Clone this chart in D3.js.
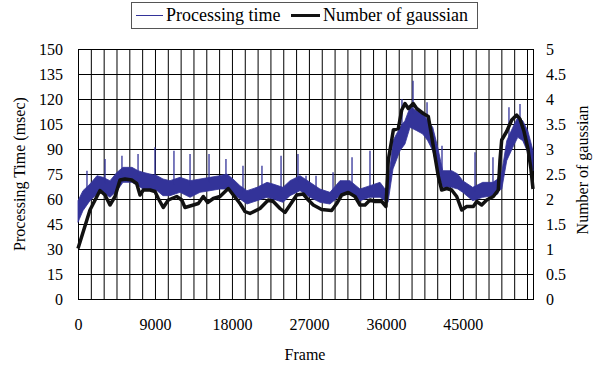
<!DOCTYPE html>
<html><head><meta charset="utf-8">
<script src="https://cdn.jsdelivr.net/npm/d3@7"></script>
<style>
html,body{margin:0;padding:0;background:#fff;}
svg{display:block;}
</style></head>
<body>
<svg id="c" width="603" height="374"></svg>
<script>
// ---- data ----
const gaussFrames = [0,1400,2570,3160,3740,4330,4910,5500,6280,6860,7250,7640,8420,9000,9390,9970,10560,11540,12130,12510,13100,14070,14650,15160,15820,16600,17570,18160,18940,19530,20110,21280,22250,22830,23620,24200,24790,25570,26340,26930,27510,28490,29660,30250,30830,31600,32390,32970,33560,34140,34730,35510,36010,36280,36680,36870,37450,37850,38230,38620,39200,39600,40370,40960,41360,41740,42130,42520,43110,43690,44280,44860,45450,46220,46620,47200,47790,48560,49140,49340,49540,50120,50710,51290,51680,52150,52610,52960,53200];
const gaussValues = [1.01,1.78,2.17,2.08,1.88,2.05,2.38,2.40,2.38,2.31,2.08,2.18,2.18,2.15,2.01,1.83,1.98,2.05,1.98,1.83,1.86,1.91,2.05,1.93,2.01,2.05,2.21,2.08,1.91,1.75,1.71,1.81,1.98,1.95,1.81,1.73,1.88,2.08,2.10,1.98,1.88,1.79,1.77,1.91,2.08,2.13,2.05,1.88,1.88,1.98,1.95,1.95,1.85,2.78,3.18,3.38,3.41,3.78,3.91,3.81,3.91,3.81,3.71,3.65,3.25,2.85,2.45,2.18,2.21,2.18,2.05,1.78,1.85,1.85,1.95,1.88,1.98,2.05,2.18,2.78,3.18,3.35,3.58,3.68,3.60,3.35,3.00,2.60,2.20];

const ptFrames = [0,580,1400,2220,2920,3740,4560,5260,6310,7020,7600,8420,9240,9940,10760,11930,13100,14270,15440,16600,17420,18120,18940,19760,20930,22100,22800,23970,24790,25960,26540,27130,28290,29460,30630,31800,32970,34140,35310,35900,36250,36830,37650,38230,38820,39600,40310,40890,41480,42060,42640,43690,44400,44980,46150,47320,48500,49080,49200,49550,50130,50840,51420,52000,52590,53200];
const ptHigh = [59,65,69,74,73,71,76,79,79,77,76,75,74,72,71,73,71,72,73,74,75,72,68,65,67,70,69,67,71,74,72,70,66,64,71,71,66,68,70,66,68,95,103,107,115,113,111,107,103,91,77,77,75,71,67,70,70,72,74,76,95,103,109,107,101,89,71];
const ptLow  = [46,53,59,63,64,61,65,70,70,68,66,65,65,62,62,64,61,64,65,66,66,63,60,57,59,61,60,58,62,65,63,61,58,57,62,64,59,61,61,59,58,78,89,93,103,101,99,95,89,77,67,67,66,64,59,61,62,63,65,66,83,91,97,95,88,77,63];

const spikeFrames = [1050,3160,5140,7020,9000,11220,13100,15320,17300,19290,21510,23740,25720,26660,27830,29820,32040,34140,37880,39170,40810,42560,46420,48520,50390,51680];
const spikeValues = [77,84,86,87,91,89,87,87,84,80,80,86,87,74,74,76,85,89,120,131,118,92,88,85,115,117];

const leftTicks = [0,15,30,45,60,75,90,105,120,135,150];
const rightTicks = [0,0.5,1,1.5,2,2.5,3,3.5,4,4.5,5];
const frameLabels = [0,9000,18000,27000,36000,45000];
const frameStep = 1500;
const frameMax = 53200;

const nBand = Math.min(ptFrames.length, ptHigh.length, ptLow.length);
const FONT = '"Liberation Serif", "Times New Roman", Times, serif';

// ---- drawing ----
const svg = d3.select("#c");
const L = 78, R = 533, T = 49, B = 299;
const x = d3.scaleLinear().domain([0, frameMax]).range([L, R]);
const yL = d3.scaleLinear().domain([0, 150]).range([B, T]);
const yR = d3.scaleLinear().domain([0, 5]).range([B, T]);

function styleAxisText(g) {
  g.attr("font-family", null).attr("font-size", null);
  g.selectAll("text").style("font-family", FONT).style("font-size", "16px").attr("fill", "#000");
}

// vertical gridlines
const gridFrames = d3.range(frameStep, frameMax, frameStep);
const gx = svg.append("g").attr("transform", `translate(0,${B})`)
  .call(d3.axisBottom(x).tickValues(gridFrames).tickSize(-(B - T)).tickFormat(""));
gx.select(".domain").remove();
gx.selectAll("line").attr("stroke", "#000").attr("stroke-width", 1);

// horizontal gridlines + left labels
const gl = svg.append("g").attr("transform", `translate(${L},0)`)
  .call(d3.axisLeft(yL).tickValues(leftTicks).tickSize(-(R - L)).tickPadding(15).tickFormat(d3.format("d")));
gl.select(".domain").remove();
gl.selectAll("line").attr("stroke", "#000").attr("stroke-width", 1).attr("shape-rendering", "crispEdges");
styleAxisText(gl);

// right labels
const gr = svg.append("g").attr("transform", `translate(${R},0)`)
  .call(d3.axisRight(yR).tickValues(rightTicks).tickSize(0).tickPadding(13).tickFormat(d => String(d)));
gr.select(".domain").remove();
styleAxisText(gr);

// bottom labels
const gb = svg.append("g").attr("transform", `translate(0,${B})`)
  .call(d3.axisBottom(x).tickValues(frameLabels).tickSize(0).tickPadding(20).tickFormat(d3.format("d")));
gb.select(".domain").remove();
styleAxisText(gb);

// plot frame
svg.append("rect").attr("x", L + 0.5).attr("y", T + 0.5).attr("width", R - L).attr("height", B - T)
  .attr("fill", "none").attr("stroke", "#000").attr("stroke-width", 1);

// processing time band
const band = d3.range(nBand).map(i => ({f: ptFrames[i], h: ptHigh[i], l: ptLow[i]}));
const blue = "#333399";
svg.append("path").datum(band)
  .attr("d", d3.area().x(d => x(d.f)).y0(d => yL(d.l)).y1(d => yL(d.h)))
  .attr("fill", blue).attr("stroke", blue).attr("stroke-width", 0.8);

// spikes
const bandHighAt = d3.scaleLinear().domain(ptFrames.slice(0, nBand)).range(ptHigh.slice(0, nBand));
svg.append("g").selectAll("line").data(spikeFrames.map((f, i) => ({f, v: spikeValues[i]})))
  .join("line")
  .attr("x1", d => x(d.f)).attr("x2", d => x(d.f))
  .attr("y1", d => yL(bandHighAt(d.f) - 3)).attr("y2", d => yL(d.v))
  .attr("stroke", blue).attr("stroke-width", 1.3);

// gaussian line
const gauss = gaussFrames.map((f, i) => ({f, v: gaussValues[i]}));
svg.append("path").datum(gauss)
  .attr("d", d3.line().x(d => x(d.f)).y(d => yR(d.v)))
  .attr("fill", "none").attr("stroke", "#111").attr("stroke-width", 3.5).attr("stroke-linejoin", "round");

// axis titles
function txt(sel) { return sel.style("font-family", FONT).style("font-size", "16px").attr("fill", "#000"); }
txt(svg.append("text").attr("transform", "translate(25,174) rotate(-90)")
  .attr("text-anchor", "middle").text("Processing Time (msec)"));
txt(svg.append("text").attr("transform", "translate(588,170) rotate(-90)")
  .attr("text-anchor", "middle").text("Number of gaussian"));
txt(svg.append("text").attr("x", 305).attr("y", 360)
  .attr("text-anchor", "middle").text("Frame"));

// legend
const lg = svg.append("g");
lg.append("rect").attr("x", 131.5).attr("y", 2.5).attr("width", 346).attr("height", 26)
  .attr("fill", "#fff").attr("stroke", "#555").attr("stroke-width", 1);
lg.append("line").attr("x1", 136).attr("x2", 163).attr("y1", 15.5).attr("y2", 15.5)
  .attr("stroke", blue).attr("stroke-width", 1);
txt(lg.append("text").attr("x", 166).attr("y", 21).text("Processing time")).style("font-size", "18px");
lg.append("line").attr("x1", 291).attr("x2", 320).attr("y1", 15.5).attr("y2", 15.5)
  .attr("stroke", "#111").attr("stroke-width", 3);
txt(lg.append("text").attr("x", 323).attr("y", 21).text("Number of gaussian")).style("font-size", "18px");
</script>
</body></html>
